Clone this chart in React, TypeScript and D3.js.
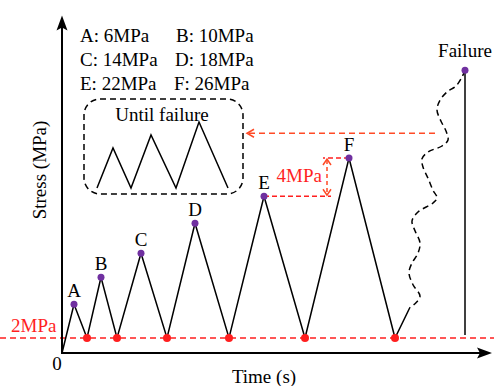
import * as d3 from 'd3'

// main loading path: time (arbitrary units), stress (MPa, as drawn)
const pathTime = [0, 12, 25, 39, 55, 79, 105, 133, 167, 202, 243, 287, 333, 348]
const pathStress = [0, 6.5, 2, 10.1, 2, 13.3, 2, 17.3, 2, 20.9, 2, 26, 2, 6.1]

const peakLabels = ['A', 'B', 'C', 'D', 'E', 'F']
const peakIndex = [1, 3, 5, 7, 9, 11]
const valleyIndex = [2, 4, 6, 8, 10, 12]

const legendRows = [
  ['A: 6MPa', 'B: 10MPa'],
  ['C: 14MPa', 'D: 18MPa'],
  ['E: 22MPa', 'F: 26MPa'],
]

// dashed "until failure" wiggle, from failure point down to the last ramp
const waveTime = [403, 400, 394, 385, 378, 375, 379, 384, 386, 380, 366, 360, 361, 366, 371, 375, 371, 356, 350, 353, 358, 356, 350, 347, 351, 358, 354, 348]
const waveStress = [37.7, 36.8, 35.6, 34.8, 33.7, 32.4, 30.9, 29.6, 28.4, 27.6, 26.8, 25.9, 24.8, 23.3, 21.7, 20.7, 20.0, 18.8, 17.6, 16.3, 14.7, 13.3, 12.0, 10.7, 9.1, 7.6, 6.7, 6.1]

const failureTime = 403
const failureStress = 37.7
const baseStress = 2

// inset zigzag
const insetTime = [0, 16, 34, 54, 79, 102, 131]
const insetStress = [0, 40, 0, 53, 0, 66, 0]

const W = 494
const H = 386
const serif = '"Liberation Serif", "Times New Roman", serif'
const RED = '#ff1f1f'
const ORANGE = '#ff4a26'
const PURPLE = '#7030a0'

export default function App() {
  const x = d3.scaleLinear().domain([0, 430]).range([62, 492])
  const y = d3.scaleLinear().domain([0, 45]).range([353, 15.5])

  const ix = d3.scaleLinear().domain([0, 131]).range([97, 228])
  const iy = d3.scaleLinear().domain([0, 66]).range([188, 122])

  const line = d3.line<number>()
    .x((_, i) => x(pathTime[i]))
    .y(d => y(d))
  const wave = d3.line<number>()
    .x((_, i) => x(waveTime[i]))
    .y(d => y(d))
    .curve(d3.curveCatmullRom)
  const inset = d3.line<number>()
    .x((_, i) => ix(insetTime[i]))
    .y(d => iy(d))

  const x0 = x(0), y0 = y(0)
  const yTop = y(45), xEnd = x(430)
  const yBase = y(baseStress)

  // levels for the 4MPa annotation
  const eI = peakIndex[4], fI = peakIndex[5]
  const annX = x(265)
  const annEnd = x(269)
  const yE = y(pathStress[eI]), yF = y(pathStress[fI])

  // red arrow from failure curve to the inset
  const arrowY = y(29.3)
  const arrowFrom = x(373)
  const arrowTo = x(185)

  return (
    <svg width={W} height={H} style={{ position: 'absolute', left: 0, top: 0, background: '#fff' }}>
      {/* baseline 2MPa */}
      <line x1={0} x2={W} y1={yBase} y2={yBase} stroke={RED} strokeWidth={1.5} strokeDasharray="6,4" />
      <text x={11} y={332} fontFamily={serif} fontSize={19} fill={RED}>2MPa</text>

      {/* axes */}
      <line x1={x0} x2={x0} y1={y0 + 1} y2={yTop + 10} stroke="#000" strokeWidth={2} />
      <path d={`M${x0},${yTop} L${x0 + 5.5},${yTop + 15} L${x0},${yTop + 12} L${x0 - 5.5},${yTop + 15} Z`} fill="#000" />
      <line x1={x0 - 1} x2={xEnd - 10} y1={y0} y2={y0} stroke="#000" strokeWidth={2} />
      <path d={`M${xEnd},${y0} L${xEnd - 15},${y0 - 5.5} L${xEnd - 12},${y0} L${xEnd - 15},${y0 + 5.5} Z`} fill="#000" />
      <text x={57} y={370} fontFamily={serif} fontSize={19} textAnchor="middle">0</text>
      <text x={264} y={383} fontFamily={serif} fontSize={19} textAnchor="middle">Time (s)</text>
      <text transform={`translate(46,170) rotate(-90)`} fontFamily={serif} fontSize={19} textAnchor="middle">Stress (MPa)</text>

      {/* legend */}
      {legendRows.map((row, r) => (
        <g key={r}>
          <text x={80} y={42 + r * 24} fontFamily={serif} fontSize={19}>{row[0]}</text>
          <text x={176 - r} y={42 + r * 24} fontFamily={serif} fontSize={19}>{row[1]}</text>
        </g>
      ))}

      {/* inset */}
      <rect x={84} y={99} width={159} height={95} rx={16} fill="none" stroke="#000" strokeWidth={1.5} strokeDasharray="6,4" />
      <text x={162} y={121} fontFamily={serif} fontSize={19} textAnchor="middle">Until failure</text>
      <path d={inset(insetStress) ?? ''} fill="none" stroke="#000" strokeWidth={1.5} />

      {/* red arrow to inset */}
      <line x1={arrowFrom} x2={arrowTo + 2} y1={arrowY} y2={arrowY} stroke={ORANGE} strokeWidth={1.5} strokeDasharray="6,4" />
      <path d={`M${arrowTo + 7},${arrowY - 4} L${arrowTo},${arrowY} L${arrowTo + 7},${arrowY + 4}`} fill="none" stroke={ORANGE} strokeWidth={1.5} />

      {/* 4MPa annotation */}
      <line x1={x(pathTime[eI])} x2={annEnd} y1={yE} y2={yE} stroke={RED} strokeWidth={1.5} strokeDasharray="5,3" />
      <line x1={x(pathTime[fI])} x2={annX - 4} y1={yF} y2={yF} stroke={RED} strokeWidth={1.5} strokeDasharray="5,3" />
      <line x1={annX} x2={annX} y1={yF + 2} y2={yE - 2} stroke={ORANGE} strokeWidth={1.5} strokeDasharray="4,3" />
      <path d={`M${annX - 4},${yF + 7} L${annX},${yF + 1} L${annX + 4},${yF + 7}`} fill="none" stroke={ORANGE} strokeWidth={1.5} />
      <path d={`M${annX - 4},${yE - 7} L${annX},${yE - 1} L${annX + 4},${yE - 7}`} fill="none" stroke={ORANGE} strokeWidth={1.5} />
      <text x={322} y={182} fontFamily={serif} fontSize={19} fill={RED} textAnchor="end">4MPa</text>

      {/* loading path */}
      <path d={line(pathStress) ?? ''} fill="none" stroke="#000" strokeWidth={1.5} />
      <path d={wave(waveStress) ?? ''} fill="none" stroke="#000" strokeWidth={1.5} strokeDasharray="6,4" />
      <line x1={x(failureTime)} x2={x(failureTime)} y1={y(failureStress)} y2={y(baseStress) - 3} stroke="#000" strokeWidth={1.5} />

      {valleyIndex.map(i => (
        <circle key={i} cx={x(pathTime[i])} cy={y(pathStress[i])} r={4} fill={RED} />
      ))}
      {peakIndex.map((i, k) => (
        <g key={i}>
          <circle cx={x(pathTime[i])} cy={y(pathStress[i])} r={3.5} fill={PURPLE} />
          <text x={x(pathTime[i])} y={y(pathStress[i]) - 7} fontFamily={serif} fontSize={19} textAnchor="middle">{peakLabels[k]}</text>
        </g>
      ))}
      <circle cx={x(failureTime)} cy={y(failureStress)} r={3.5} fill={PURPLE} />
      <text x={x(failureTime)} y={57} fontFamily={serif} fontSize={19} textAnchor="middle">Failure</text>
    </svg>
  )
}
